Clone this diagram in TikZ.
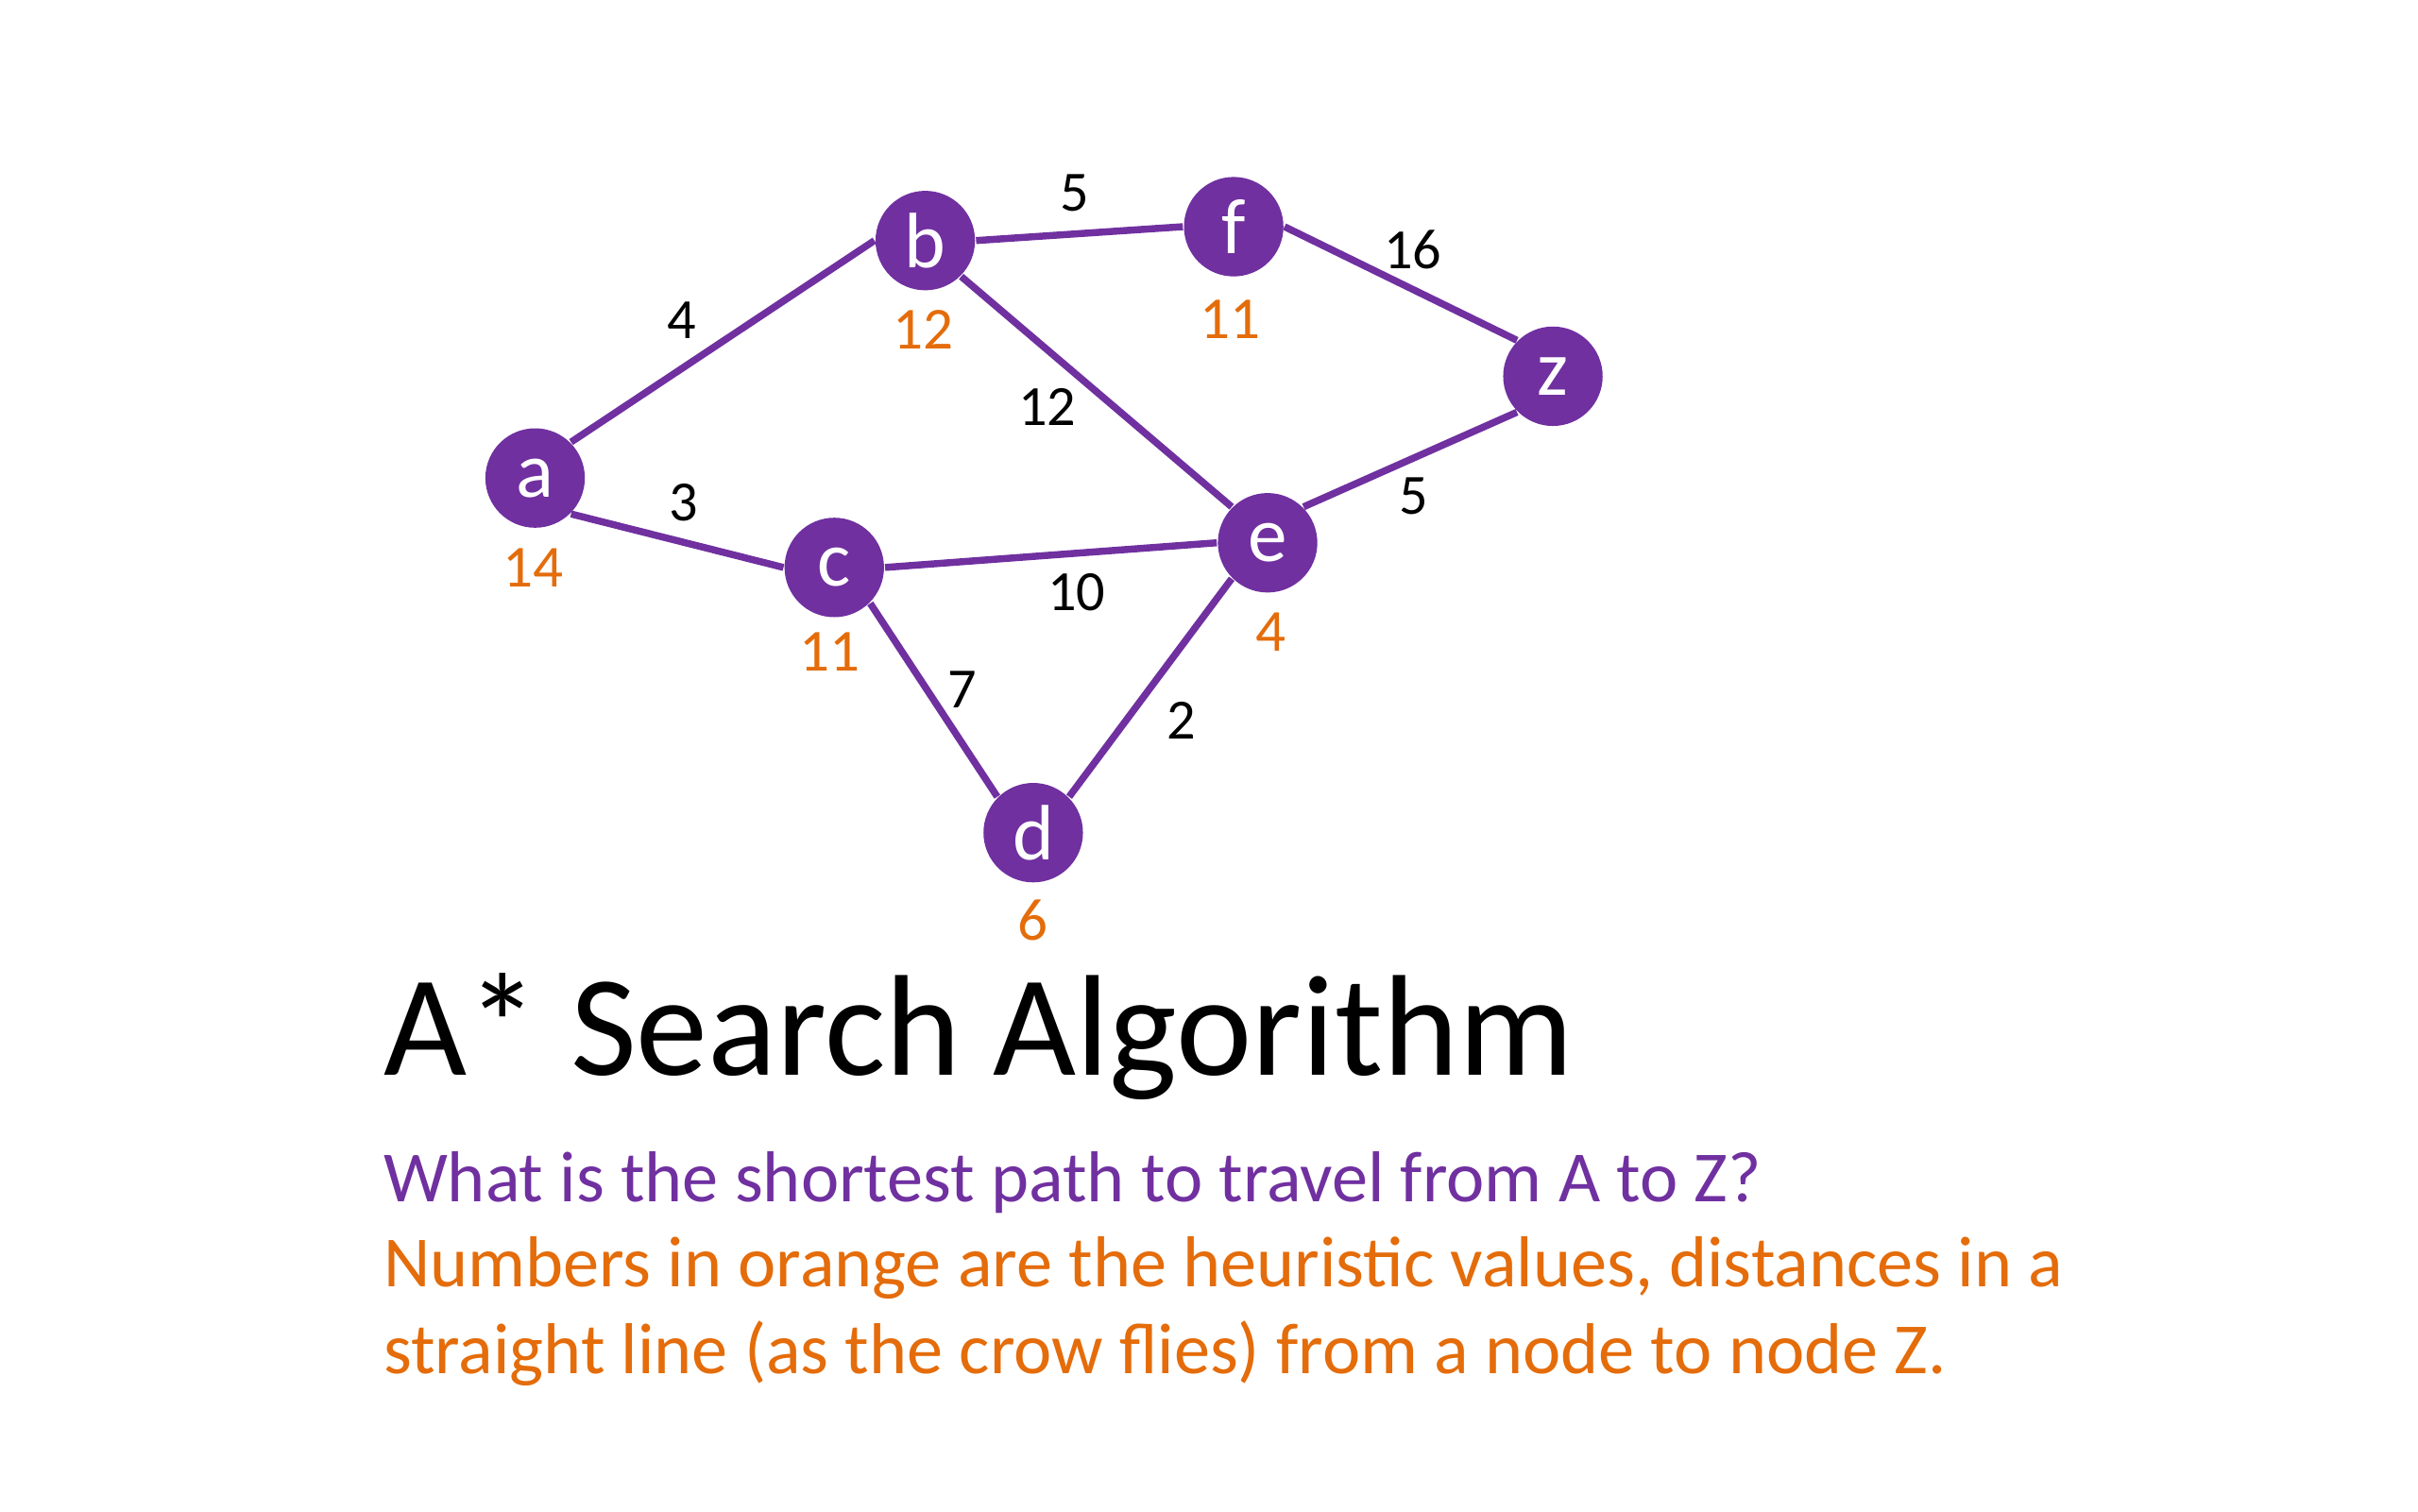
\documentclass[tikz,border=0pt]{standalone}
\usepackage{fontspec}
\setmainfont{Carlito}
\usepackage{tikz}
\usetikzlibrary{positioning,calc}
\definecolor{apurple}{HTML}{7030A0}
\definecolor{aorange}{HTML}{E46C0A}

\begin{document}
\begin{tikzpicture}[
    vert/.style={circle, fill=apurple, draw=none, minimum size=0.645cm, inner sep=0pt,
        text=white, font=\fontsize{14.5}{15}\selectfont},
    edge/.style={draw=apurple, line width=1.3pt},
    wt/.style={font=\fontsize{10.5}{11}\selectfont, text=black, inner sep=1pt},
    heur/.style={font=\fontsize{11}{12}\selectfont, text=aorange, inner sep=1pt}
]
    \useasboundingbox (0,0) rectangle (15.68,-9.80);

    % vertices
    \node[vert] (a) at (3.47,-3.10) {a};
    \node[vert] (b) at (6.00,-1.56) {b};
    \node[vert] (f) at (8.00,-1.47) {f};
    \node[vert] (z) at (10.07,-2.44) {z};
    \node[vert] (c) at (5.41,-3.68) {c};
    \node[vert] (e) at (8.22,-3.52) {e};
    \node[vert] (d) at (6.70,-5.40) {d};

    % edges (joined at the connection points of the circles)
    \draw[edge] (a.north east) -- (b.west);
    \draw[edge] (a.south east) -- (c.west);
    \draw[edge] (b.east) -- (f.west);
    \draw[edge] (b.south east) -- (e.north west);
    \draw[edge] (f.east) -- (z.north west);
    \draw[edge] (c.east) -- (e.west);
    \draw[edge] (c.south east) -- (d.north west);
    \draw[edge] (d.north east) -- (e.south west);
    \draw[edge] (e.north east) -- (z.south west);

    % edge weights
    \node[wt] (wab) at (4.42,-2.08) {4};
    \node[wt] (wac) at (4.43,-3.26) {3};
    \node[wt] (wbf) at (6.97,-1.25) {5};
    \node[wt] (wbe) at (6.79,-2.64) {12};
    \node[wt] (wfz) at (9.16,-1.62) {16};
    \node[wt] (wce) at (6.98,-3.84) {10};
    \node[wt] (wcd) at (6.24,-4.47) {7};
    \node[wt] (wde) at (7.66,-4.67) {2};
    \node[wt] (wez) at (9.17,-3.22) {5};

    % heuristic values
    \node[heur] (ha) at ([xshift=-0.01cm,yshift=-0.58cm]a.center) {14};
    \node[heur] (hb) at ([xshift=-0.01cm,yshift=-0.58cm]b.center) {12};
    \node[heur] (hf) at ([xshift=-0.02cm,yshift=-0.60cm]f.center) {11};
    \node[heur] (hc) at ([xshift=-0.03cm,yshift=-0.55cm]c.center) {11};
    \node[heur] (he) at ([xshift=0.02cm,yshift=-0.58cm]e.center) {4};
    \node[heur] (hd) at ([yshift=-0.57cm]d.center) {6};

    % text
    \node[anchor=base west, inner sep=0pt, font=\fontsize{26.5}{30}\selectfont] (title)
        at (2.48,-6.975) {A* Search Algorithm};
    \node[anchor=base west, inner sep=0pt, text=apurple, font=\fontsize{13.3}{15.85}\selectfont] (quest)
        at (2.48,-7.796) {What is the shortest path to travel from A to Z?};
    \node[anchor=base west, inner sep=0pt, text=aorange, font=\fontsize{13.3}{15.85}\selectfont] (note1)
        at (2.48,-8.347) {Numbers in orange are the heuristic values, distances in a};
    \node[anchor=base west, inner sep=0pt, text=aorange, font=\fontsize{13.3}{15.85}\selectfont] (note2)
        at (2.48,-8.91) {straight line (as the crow flies) from a node to node Z.};
\end{tikzpicture}
\end{document}
